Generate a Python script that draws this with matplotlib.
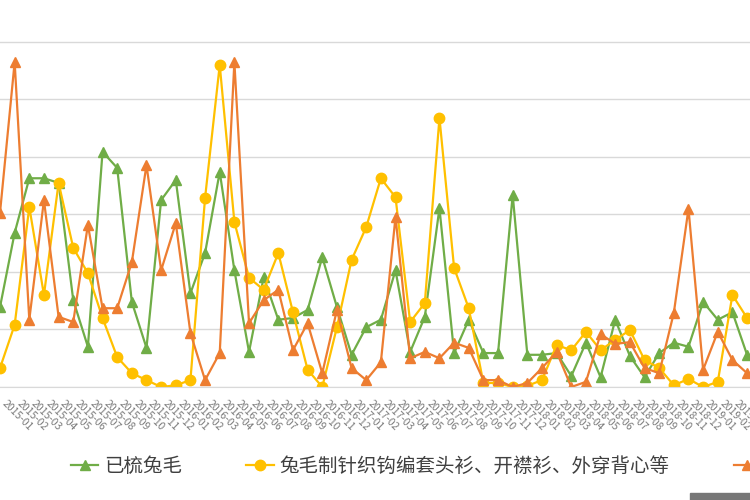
import numpy as np
import matplotlib
matplotlib.use("Agg")
import matplotlib.pyplot as plt
from matplotlib.patches import Rectangle

plt.rcParams['font.family'] = ['Noto Sans CJK SC', 'DejaVu Sans']

# series names (third one is cut off in the picture)
names = ['已梳兔毛', '兔毛制针织钩编套头衫、开襟衫、外穿背心等', '其他兔毛制品']

# category labels (months), one per point
months = ['%d-%02d' % (y, m) for y in range(2015, 2020) for m in range(1, 13)][:52]

green = [13.9, 26.8, 36.3, 36.3, 35.5, 15.1, 7.0, 40.9, 38.1, 14.8,
         6.8, 32.5, 36.0, 16.3, 23.3, 37.4, 20.3, 6.1, 19.1, 11.7,
         12.0, 13.4, 22.6, 13.9, 5.6, 10.4, 11.7, 20.3, 6.1, 12.2,
         31.1, 5.9, 11.7, 5.9, 5.9, 33.4, 5.6, 5.6, 5.9, 1.9,
         7.7, 1.7, 11.7, 5.4, 1.7, 5.9, 7.7, 7.0, 14.8, 11.7,
         13.0, 5.6]

yellow = [3.3, 10.8, 31.3, 16.0, 35.5, 24.2, 19.8, 12.0, 5.2, 2.4,
          1.2, 0.0, 0.3, 1.2, 32.9, 56.0, 28.7, 19.0, 16.9, 23.3,
          13.0, 3.0, 0.0, 10.4, 22.1, 27.8, 36.3, 33.0, 11.3, 14.6,
          46.8, 20.7, 13.7, 0.7, 0.7, 0.0, 0.2, 1.2, 7.3, 6.4,
          9.6, 6.4, 8.2, 9.9, 4.7, 3.3, 0.3, 1.4, 0.0, 0.9,
          16.0, 12.0]

orange = [30.3, 56.5, 11.7, 32.5, 12.2, 11.3, 28.2, 13.7, 13.7, 21.7,
          38.6, 20.3, 28.5, 9.4, 1.2, 5.9, 56.5, 11.1, 15.1, 16.9,
          6.4, 11.1, 2.4, 13.4, 3.3, 1.2, 4.3, 29.6, 5.0, 6.1,
          5.0, 7.7, 6.8, 1.2, 1.2, 0.0, 0.7, 3.3, 6.1, 0.0,
          0.9, 9.2, 7.5, 7.8, 3.3, 2.4, 12.9, 31.0, 3.0, 9.6,
          4.7, 2.4]

x = np.arange(len(green))

fig = plt.figure(figsize=(7.5, 5), dpi=100)
ax = fig.add_axes([0, 0.226, 1, 0.774])

l1, = ax.plot(x, green, color='#70AD47', marker='^', markersize=6.5, lw=1.6, label=names[0])
l2, = ax.plot(x, yellow, color='#FFC000', marker='o', markersize=7.5, lw=1.6, label=names[1])
l3, = ax.plot(x, orange, color='#ED7D31', marker='^', markersize=7.5, lw=1.6, label=names[2])

ax.set_xlim(0.18, 51.2)
ax.set_ylim(0, 67.3)
ax.set_yticks(np.arange(0, 70, 10))
ax.yaxis.grid(True, color='#d9d9d9', lw=1)
ax.set_axisbelow(True)
ax.tick_params(axis='y', left=False, labelleft=False)
for s in ['top', 'left', 'right']:
    ax.spines[s].set_visible(False)
ax.spines['bottom'].set_color('#d9d9d9')

ax.set_xticks(x)
ax.set_xticklabels(months, rotation=-45, ha='left', fontsize=7.5, color='#7a7a7a')
ax.tick_params(axis='x', length=0, pad=8)

leg = fig.legend(handles=[l1, l2, l3], loc='center left', bbox_to_anchor=(0.095, 0.068),
                 ncol=3, frameon=False, fontsize=14, handlelength=1.4,
                 columnspacing=3.3, handletextpad=0.3, labelcolor='#404040',
                 borderaxespad=0, borderpad=0)

fig.patches.append(Rectangle((0.92, 0.0), 0.08, 0.015, transform=fig.transFigure,
                             color='#777777'))

fig.savefig('out.png', dpi=100)
